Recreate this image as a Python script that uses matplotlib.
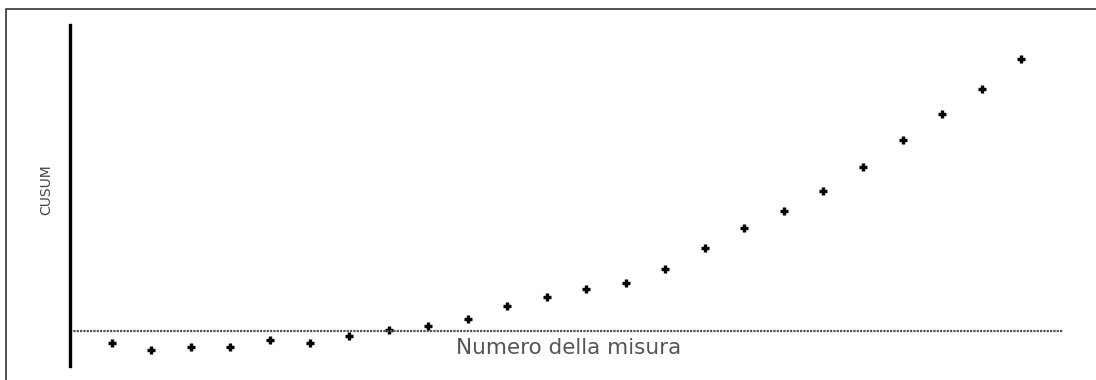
import numpy as np
import matplotlib.pyplot as plt
from matplotlib.patches import Rectangle

misura = np.arange(1, 25)
cusum = [-1.2, -1.9, -1.6, -1.6, -0.9, -1.2, -0.5, 0.1, 0.5, 1.2, 2.5, 3.4,
         4.2, 4.8, 6.2, 8.3, 10.3, 12.0, 14.0, 16.4, 19.1, 21.7, 24.2, 27.2]

W, H = 1096, 380
fig = plt.figure(figsize=(W / 100, H / 100), dpi=100)
fig.patch.set_facecolor('white')

# frame around the picture (only top and left visible)
fig.add_artist(Rectangle((6 / W, -0.1), 1.2, (H - 9) / H + 0.1,
                         transform=fig.transFigure, fill=False,
                         edgecolor='#333333', lw=1.2))

ax = fig.add_axes([70 / W, 14 / H, (1063 - 70) / W, (366 - 25) / H])
ax.set_xlim(-0.06, 25.06)
ax.set_ylim(-3.5, 30.6)

ax.plot(misura, cusum, linestyle='none', marker='+', markersize=6,
        markeredgewidth=2.4, color='black')
ax.axhline(0, color='#5a5050', lw=1.6, linestyle=(0, (1, 0.5)))

for s in ['top', 'right', 'bottom']:
    ax.spines[s].set_visible(False)
ax.spines['left'].set_linewidth(2.4)
ax.spines['left'].set_color('black')
ax.set_xticks([])
ax.set_yticks([])

fig.text(46 / W, 1 - 190 / H, 'CUSUM', rotation=90, ha='center', va='center',
         fontsize=10, color='#444444', family='DejaVu Sans')
fig.text(569 / W, 1 - 348 / H, 'Numero della misura', ha='center', va='center',
         fontsize=15.5, color='#555555', family='DejaVu Sans')

fig.savefig('out.png', dpi=100)
